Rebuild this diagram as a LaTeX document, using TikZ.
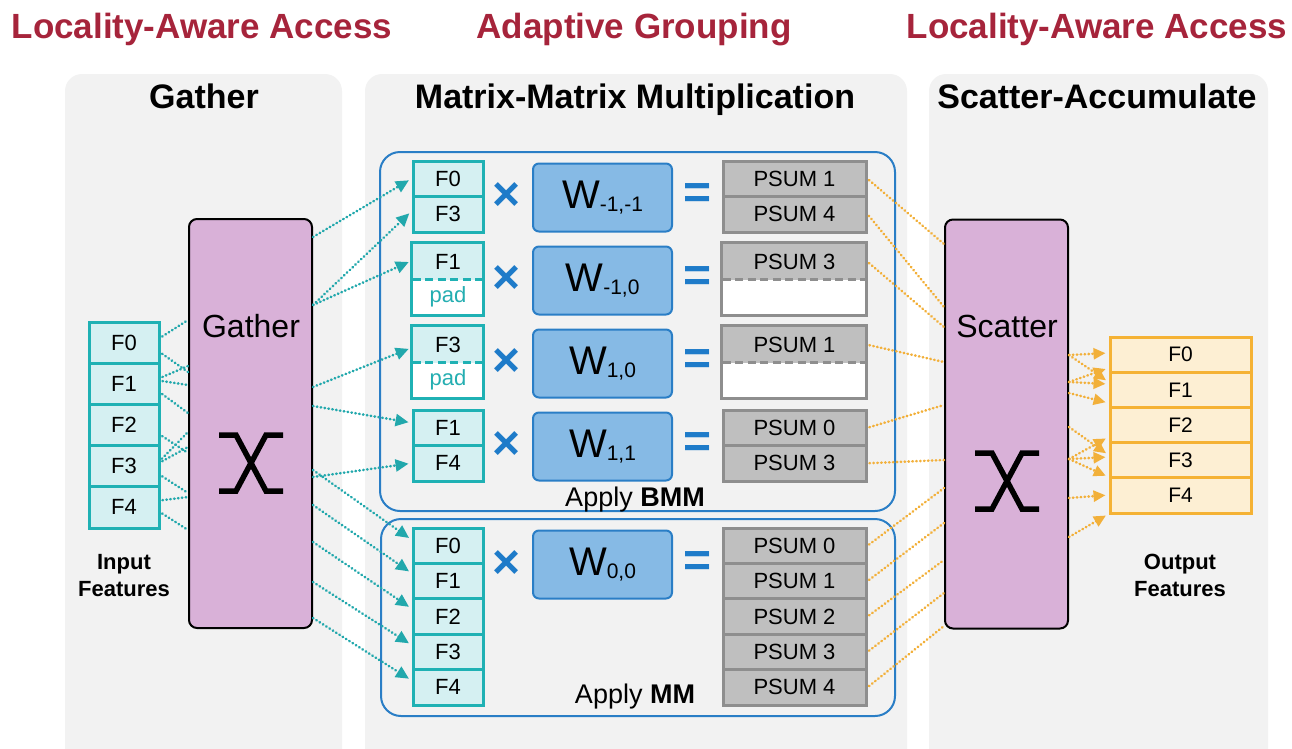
\documentclass[tikz,border=0pt]{standalone}
\usepackage{fontspec}
\setmainfont{Liberation Sans}
\usetikzlibrary{arrows.meta,calc}

\definecolor{titlered}{HTML}{A6243B}
\definecolor{panelgray}{HTML}{F2F2F2}
\definecolor{mauve}{HTML}{D9B1D8}
\definecolor{tealline}{HTML}{1FB1B4}
\definecolor{tealfill}{HTML}{D5F0F2}
\definecolor{padteal}{HTML}{24AEB1}
\definecolor{tealdots}{HTML}{22A8AC}
\definecolor{groupblue}{HTML}{2A7EC6}
\definecolor{wline}{HTML}{2A7EC6}
\definecolor{wfill}{HTML}{86BAE5}
\definecolor{opblue}{HTML}{1E7BC9}
\definecolor{psumfill}{HTML}{BFBFBF}
\definecolor{psumline}{HTML}{8E8E8E}
\definecolor{orangeline}{HTML}{F5B234}
\definecolor{orangefill}{HTML}{FDEFD3}
\definecolor{orangedots}{HTML}{F2B03A}

\newcommand{\setfs}[1]{\fontsize{#1}{#1}\selectfont}

\begin{document}
\begin{tikzpicture}[x=1pt,y=-1pt,
  title/.style={font=\setfs{35}\bfseries, text=titlered, anchor=base, inner sep=0pt},
  header/.style={font=\setfs{34}\bfseries, anchor=base, inner sep=0pt},
  lbl/.style={font=\setfs{22}\bfseries, anchor=base, inner sep=0pt},
  fcell/.style={draw=tealline, fill=tealfill, line width=3pt, minimum width=70pt, minimum height=35.5pt, inner sep=0pt, font=\setfs{22}},
  incell/.style={fcell, minimum height=41.2pt},
  padcell/.style={fill=white, minimum width=70pt, minimum height=35.5pt, inner sep=0pt, font=\setfs{22}, text=padteal},
  tealbox/.style={draw=tealline, line width=3pt},
  tealdash/.style={draw=tealline, line width=3pt, dash pattern=on 8pt off 4.5pt},
  wbox/.style={draw=wline, fill=wfill, line width=2pt, rounded corners=6pt, minimum width=139pt, minimum height=68pt, inner sep=0pt, font=\setfs{40}},
  psum/.style={draw=psumline, fill=psumfill, line width=3pt, minimum width=143pt, minimum height=35.5pt, inner sep=0pt, font=\setfs{22}},
  psumblank/.style={fill=white, minimum width=143pt, minimum height=35.5pt, inner sep=0pt},
  psumbox/.style={draw=psumline, line width=3pt},
  psumdash/.style={draw=psumline, line width=3pt, dash pattern=on 8pt off 4.5pt},
  op/.style={font=\setfs{48}\bfseries, text=opblue, inner sep=0pt},
  group/.style={draw=groupblue, line width=2pt, rounded corners=20pt, inner sep=0pt},
  mixer/.style={draw=black, fill=mauve, line width=2pt, rounded corners=8pt, minimum width=123pt, minimum height=409pt, inner sep=0pt},
  mixlbl/.style={font=\setfs{32}, anchor=base, inner sep=0pt},
  xmark/.style={line width=5.5pt, line cap=butt, line join=miter},
  ocell/.style={draw=orangeline, fill=orangefill, line width=3pt, minimum width=141pt, minimum height=35.2pt, inner sep=0pt, font=\setfs{21}},
  tealdot/.style={draw=tealdots, line width=2.6pt, line cap=round, dash pattern=on 0.5pt off 3.4pt},
  tealarrow/.style={tealdot, -{Triangle[length=13pt,width=12pt]}, shorten >=3pt},
  orangedot/.style={draw=orangedots, line width=2.6pt, line cap=round, dash pattern=on 0.5pt off 3.4pt},
  orangearrow/.style={orangedot, -{Triangle[length=12pt,width=11pt]}, shorten >=3pt},
]
\useasboundingbox (0,0) rectangle (1292,748);

% stage panels
\begin{scope}
  \clip (0,0) rectangle (1292,748);
  \fill[panelgray, rounded corners=17pt] (65,74) rectangle (342,800);
  \fill[panelgray, rounded corners=17pt] (365,74) rectangle (907,800);
  \fill[panelgray, rounded corners=17pt] (929,74) rectangle (1268,800);
\end{scope}

% titles and headers
\node[title] (t1) at (202,38) {Locality-Aware Access};
\node[title] (t2) at (634,38) {Adaptive Grouping};
\node[title] (t3) at (1097,38) {Locality-Aware Access};
\node[header] (h1) at (204,108) {Gather};
\node[header] (h2) at (635,108) {Matrix-Matrix Multiplication};
\node[header] (h3) at (1097,108) {Scatter-Accumulate};

% input features
\node[incell] (in0) at (124,342.6) {F0};
\node[incell] (in1) at (124,383.8) {F1};
\node[incell] (in2) at (124,425.0) {F2};
\node[incell] (in3) at (124,466.2) {F3};
\node[incell] (in4) at (124,507.4) {F4};
\node[lbl] (inl1) at (124,569) {Input};
\node[lbl] (inl2) at (124,596) {Features};

% gather and scatter units
\node[mixer] (gather) at (250.5,423.5) {};
\node[mixlbl] (gl) at (251,337) {Gather};
\begin{scope}[shift={(251,463)}]
  \draw[xmark] (-32,-28) -- (-15,-28) -- (15,28) -- (32,28);
  \draw[xmark] (32,-28) -- (15,-28) -- (-15,28) -- (-32,28);
\end{scope}
\node[mixer] (scatter) at (1006.5,424) {};
\node[mixlbl] (sl) at (1007,337) {Scatter};
\begin{scope}[shift={(1007,481)}]
  \draw[xmark] (-32,-28) -- (-15,-28) -- (15,28) -- (32,28);
  \draw[xmark] (32,-28) -- (15,-28) -- (-15,28) -- (-32,28);
\end{scope}

% grouped computation boxes
\node[group, minimum width=515pt, minimum height=359pt] (bmm) at (637.5,331.5) {};
\node[group, minimum width=514pt, minimum height=197pt] (mm) at (638,617.5) {};
\node[font=\setfs{27}, anchor=base, inner sep=0pt] (bmml) at (635,506) {Apply \textbf{BMM}};
\node[font=\setfs{27}, anchor=base, inner sep=0pt] (mml) at (635,703) {Apply \textbf{MM}};

% row 1
\node[fcell] (r1a) at (448,178.75) {F0};
\node[fcell] (r1b) at (448,214.25) {F3};
% row 2 (padded)
\node[fcell, draw=none] (r2a) at (448,261.75) {F1};
\node[padcell] (r2p) at (448,297.25) {pad};
\draw[tealbox] (r2a.north west) rectangle (r2p.south east);
\draw[tealdash] (r2p.north west) -- (r2p.north east);
% row 3 (padded)
\node[fcell, draw=none] (r3a) at (448,344.75) {F3};
\node[padcell] (r3p) at (448,380.25) {pad};
\draw[tealbox] (r3a.north west) rectangle (r3p.south east);
\draw[tealdash] (r3p.north west) -- (r3p.north east);
% row 4
\node[fcell] (r4a) at (448,427.75) {F1};
\node[fcell] (r4b) at (448,463.25) {F4};
% dense rows
\node[fcell, minimum height=35.4pt] (m0) at (448,545.7) {F0};
\node[fcell, minimum height=35.4pt] (m1) at (448,581.1) {F1};
\node[fcell, minimum height=35.4pt] (m2) at (448,616.5) {F2};
\node[fcell, minimum height=35.4pt] (m3) at (448,651.9) {F3};
\node[fcell, minimum height=35.4pt] (m4) at (448,687.3) {F4};

% operators
\node[op] (x1) at (507,196.5) {×};
\node[op] (x2) at (507,279.5) {×};
\node[op] (x3) at (507,362.5) {×};
\node[op] (x4) at (507,445.5) {×};
\node[op] (x5) at (507,564) {×};
\node[op] (e1) at (698,196.5) {=};
\node[op] (e2) at (698,279.5) {=};
\node[op] (e3) at (698,362.5) {=};
\node[op] (e4) at (698,445.5) {=};
\node[op] (e5) at (698,564) {=};

% weights
\node[wbox] (w1) at (602.5,197.5) {W\raisebox{-3pt}{\setfs{21}-1,-1}};
\node[wbox] (w2) at (602.5,280.5) {W\raisebox{-3pt}{\setfs{21}-1,0}};
\node[wbox] (w3) at (602.5,363.5) {W\raisebox{-3pt}{\setfs{21}1,0}};
\node[wbox] (w4) at (602.5,446.5) {W\raisebox{-3pt}{\setfs{21}1,1}};
\node[wbox] (w5) at (602.5,564.5) {W\raisebox{-3pt}{\setfs{21}0,0}};

% partial sums
\node[psum] (q1a) at (794.5,178.75) {PSUM 1};
\node[psum] (q1b) at (794.5,214.25) {PSUM 4};
\node[psum, draw=none] (q2a) at (794.5,261.75) {PSUM 3};
\node[psumblank] (q2p) at (794.5,297.25) {};
\draw[psumbox] (q2a.north west) rectangle (q2p.south east);
\draw[psumdash] (q2p.north west) -- (q2p.north east);
\node[psum, draw=none] (q3a) at (794.5,344.75) {PSUM 1};
\node[psumblank] (q3p) at (794.5,380.25) {};
\draw[psumbox] (q3a.north west) rectangle (q3p.south east);
\draw[psumdash] (q3p.north west) -- (q3p.north east);
\node[psum] (q4a) at (794.5,427.75) {PSUM 0};
\node[psum] (q4b) at (794.5,463.25) {PSUM 3};
\node[psum, minimum height=35.4pt] (s0) at (794.5,545.7) {PSUM 0};
\node[psum, minimum height=35.4pt] (s1) at (794.5,581.1) {PSUM 1};
\node[psum, minimum height=35.4pt] (s2) at (794.5,616.5) {PSUM 2};
\node[psum, minimum height=35.4pt] (s3) at (794.5,651.9) {PSUM 3};
\node[psum, minimum height=35.4pt] (s4) at (794.5,687.3) {PSUM 4};

% output features
\node[ocell] (o0) at (1180.5,354.6) {F0};
\node[ocell] (o1) at (1180.5,389.8) {F1};
\node[ocell] (o2) at (1180.5,425.0) {F2};
\node[ocell] (o3) at (1180.5,460.2) {F3};
\node[ocell] (o4) at (1180.5,495.4) {F4};
\node[lbl] (outl1) at (1180,569) {Output};
\node[lbl] (outl2) at (1180,596) {Features};

% input features into the gather unit
\draw[tealdot, shorten <=2pt] ($(in0.east)+(0,-5)$) -- (gather.west |- 0,320);
\draw[tealdot, shorten <=2pt] ($(in0.east)+(0,10)$) -- (gather.west |- 0,372);
\draw[tealdot, shorten <=2pt] ($(in1.east)+(0,-6)$) -- (gather.west |- 0,366);
\draw[tealdot, shorten <=2pt] ($(in1.east)+(0,-3)$) -- (gather.west |- 0,385);
\draw[tealdot, shorten <=2pt] ($(in1.east)+(0,9)$) -- (gather.west |- 0,413);
\draw[tealdot, shorten <=2pt] ($(in2.east)+(0,10)$) -- (gather.west |- 0,453);
\draw[tealdot, shorten <=2pt] ($(in3.east)+(0,-6)$) -- (gather.west |- 0,432);
\draw[tealdot, shorten <=2pt] ($(in3.east)+(0,-4)$) -- (gather.west |- 0,447);
\draw[tealdot, shorten <=2pt] ($(in3.east)+(0,9)$) -- (gather.west |- 0,493);
\draw[tealdot, shorten <=2pt] ($(in4.east)+(0,-7)$) -- (gather.west |- 0,497);
\draw[tealdot, shorten <=2pt] ($(in4.east)+(0,5)$) -- (gather.west |- 0,530);

% gathered features into the groups
\draw[tealarrow] (gather.east |- 0,237) -- (r1a.west);
\draw[tealarrow] (gather.east |- 0,305) -- ($(r1b.west)+(0,-3)$);
\draw[tealarrow] (gather.east |- 0,305) -- ($(r2a.west)+(0,-1)$);
\draw[tealarrow] (gather.east |- 0,387) -- ($(r3a.west)+(0,3)$);
\draw[tealarrow] (gather.east |- 0,406) -- ($(r4a.west)+(0,-5)$);
\draw[tealarrow] (gather.east |- 0,477) -- (r4b.west);
\draw[tealarrow] (gather.east |- 0,470) -- ($(m0.west)+(0,-6)$);
\draw[tealarrow] (gather.east |- 0,505) -- ($(m1.west)+(0,-8)$);
\draw[tealarrow] (gather.east |- 0,542) -- ($(m2.west)+(0,-8)$);
\draw[tealarrow] (gather.east |- 0,582) -- ($(m3.west)+(0,-7)$);
\draw[tealarrow] (gather.east |- 0,618) -- ($(m4.west)+(0,-7)$);

% partial sums into the scatter unit
\draw[orangedot, shorten <=2pt] (q1a.east) -- (scatter.west |- 0,244);
\draw[orangedot, shorten <=2pt] (q1b.east) -- (scatter.west |- 0,307);
\draw[orangedot, shorten <=2pt] (q2a.east) -- (scatter.west |- 0,327);
\draw[orangedot, shorten <=2pt] (q3a.east) -- (scatter.west |- 0,362);
\draw[orangedot, shorten <=2pt] (q4a.east) -- (scatter.west |- 0,405);
\draw[orangedot, shorten <=2pt] (q4b.east) -- (scatter.west |- 0,460);
\draw[orangedot, shorten <=2pt] (s0.east) -- (scatter.west |- 0,488);
\draw[orangedot, shorten <=2pt] (s1.east) -- (scatter.west |- 0,523);
\draw[orangedot, shorten <=2pt] (s2.east) -- (scatter.west |- 0,560);
\draw[orangedot, shorten <=2pt] (s3.east) -- (scatter.west |- 0,593);
\draw[orangedot, shorten <=2pt] (s4.east) -- (scatter.west |- 0,626);

% accumulated results into the output features
\draw[orangearrow] (scatter.east |- 0,355) -- (o0.west |- 0,353);
\draw[orangearrow] (scatter.east |- 0,355) -- (o1.west |- 0,382);
\draw[orangearrow] (scatter.east |- 0,382) -- (o0.west |- 0,368);
\draw[orangearrow] (scatter.east |- 0,382) -- (o1.west |- 0,384);
\draw[orangearrow] (scatter.east |- 0,393) -- (o1.west |- 0,403);
\draw[orangearrow] (scatter.east |- 0,427) -- (o3.west |- 0,455);
\draw[orangearrow] (scatter.east |- 0,459) -- (o2.west |- 0,437);
\draw[orangearrow] (scatter.east |- 0,459) -- (o3.west |- 0,457);
\draw[orangearrow] (scatter.east |- 0,459) -- (o3.west |- 0,477);
\draw[orangearrow] (scatter.east |- 0,498) -- (o4.west |- 0,495);
\draw[orangearrow] (scatter.east |- 0,537) -- (o4.west |- 0,514);
\end{tikzpicture}
\end{document}
